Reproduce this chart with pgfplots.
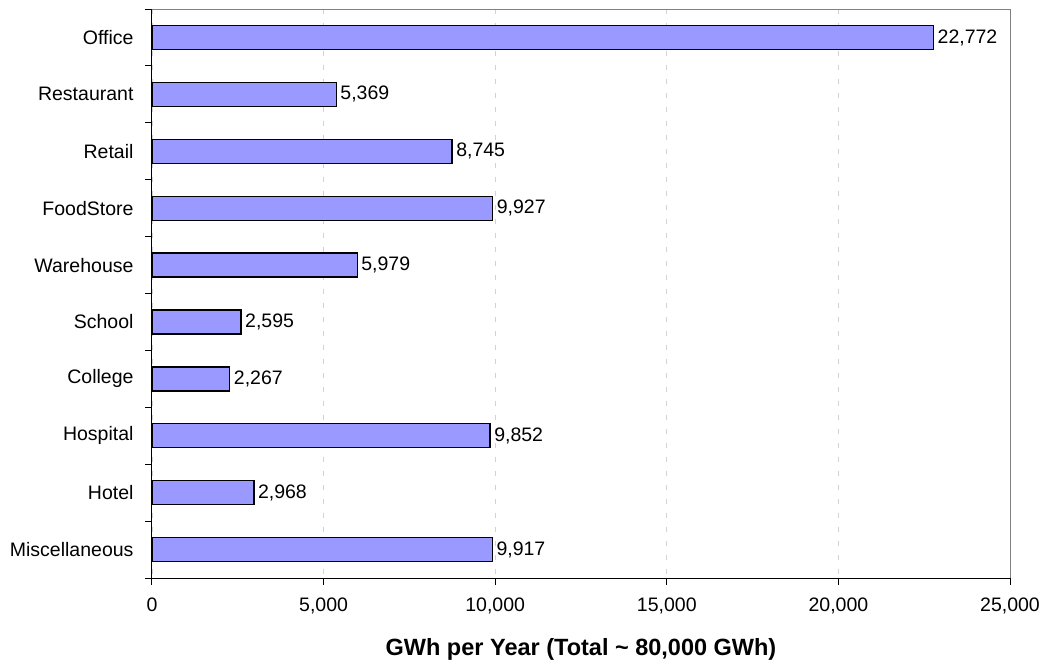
\documentclass[border=0pt]{standalone}
\usepackage{fontspec}
\setmainfont{Liberation Sans}
\usepackage{pgfplots}
\pgfplotsset{compat=1.18}
\definecolor{barfill}{HTML}{9999FF}
\begin{document}
\begin{tikzpicture}[x=1pt,y=1pt]
\path[use as bounding box] (-152pt,-84pt) rectangle (892pt,578pt);
\begin{axis}[
  at={(0,0)}, anchor=south west,
  scale only axis, width=858pt, height=569pt,
  xbar, bar width=24pt,
  xmin=0, xmax=25000,
  ymin=-0.5, ymax=9.5, y dir=reverse,
  xtick={0,5000,...,25000},
  scaled x ticks=false,
  ytick={0,...,9},
  yticklabels={Office,Restaurant,Retail,FoodStore,Warehouse,School,College,Hospital,Hotel,Miscellaneous},
  minor ytick={-0.5,0.5,...,9.5},
  tick align=outside,
  xtick pos=bottom, ytick pos=left,
  major tick length=7pt, minor tick length=7pt,
  y tick style={draw=none},
  minor y tick style={draw=black, line width=1pt},
  x tick style={black, line width=1pt},
  xmajorgrids, grid style={gray!35, line width=0.8pt, dash pattern=on 5pt off 9pt},
  axis line style={line width=1pt},
  separate axis lines,
  axis x line*=bottom, axis y line*=left,
  /pgf/number format/.cd, 1000 sep={,}, assume math mode=true, /pgfplots/.cd,
  ticklabel style={font=\fontsize{19.5}{23}\selectfont},
  yticklabel style={xshift=-8pt},
  xticklabel style={yshift=-9pt},
  xlabel={\textbf{GWh per Year (Total \textasciitilde\ 80,000 GWh)}},
  xlabel style={font=\fontsize{23.5}{28}\selectfont, yshift=-18pt},
  nodes near coords,
  point meta=x,
  nodes near coords style={font=\fontsize{19.5}{23}\selectfont, anchor=west, inner sep=3.5pt, text=black},
  clip=false,
]
\addplot[fill=barfill, draw=black, line width=1.3pt] coordinates {
(22772,0) (5369,1) (8745,2) (9927,3) (5979,4) (2595,5) (2267,6) (9852,7) (2968,8) (9917,9)
};
\draw[gray, line width=1pt] (rel axis cs:0,1) -- (rel axis cs:1,1) -- (rel axis cs:1,0);
\end{axis}
\end{tikzpicture}
\end{document}
